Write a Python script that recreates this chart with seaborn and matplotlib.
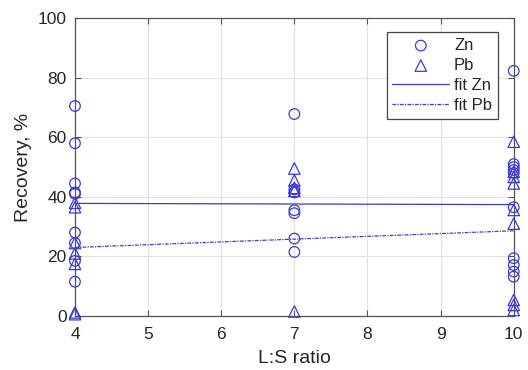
import numpy as np
import pandas as pd
import matplotlib
matplotlib.use("Agg")
import matplotlib.pyplot as plt
import seaborn as sns

# Liquid-to-solid ratio and metal recovery (%)
zn_ratio = [4, 4, 4, 4, 4, 4, 4, 4, 4,
            7, 7, 7, 7, 7, 7, 7,
            10, 10, 10, 10, 10, 10, 10, 10, 10, 10]
zn_recovery = [70.5, 58.0, 44.5, 41.5, 41.0, 28.0, 24.5, 18.5, 11.5,
               67.8, 42.5, 41.5, 35.5, 34.5, 26.0, 21.5,
               82.3, 51.0, 50.0, 49.0, 48.0, 36.5, 19.4, 17.1, 14.9, 13.2]

pb_ratio = [4, 4, 4, 4, 4, 4, 4,
            7, 7, 7, 7, 7,
            10, 10, 10, 10, 10, 10, 10, 10, 10]
pb_recovery = [38.0, 36.5, 24.5, 21.0, 17.5, 1.2, 0.6,
               49.5, 45.5, 43.0, 42.0, 1.5,
               58.5, 48.4, 46.7, 44.5, 35.6, 31.0, 5.4, 3.7, 2.0]

# Linear fit end points
fit_x = [4, 10]
fit_zn = [37.8, 37.4]
fit_pb = [23.0, 28.6]

blue = "#3a3ad6"

sns.set_theme(style="whitegrid")
plt.rcParams["font.family"] = ["Liberation Sans", "DejaVu Sans"]

fig = plt.figure(figsize=(5.28, 3.70), dpi=100)
ax = fig.add_axes([0.142, 0.146, 0.831, 0.805])

zn_df = pd.DataFrame({"ratio": zn_ratio, "recovery": zn_recovery})
pb_df = pd.DataFrame({"ratio": pb_ratio, "recovery": pb_recovery})
fit_df = pd.DataFrame({"ratio": fit_x, "zn": fit_zn, "pb": fit_pb})

sns.scatterplot(data=zn_df, x="ratio", y="recovery", ax=ax, marker="o", s=58,
                facecolor="none", edgecolor=blue, linewidth=0.9, label="Zn",
                zorder=3, clip_on=False)
sns.scatterplot(data=pb_df, x="ratio", y="recovery", ax=ax, marker="^", s=68,
                facecolor="none", edgecolor=blue, linewidth=0.9, label="Pb",
                zorder=3, clip_on=False)
sns.lineplot(data=fit_df, x="ratio", y="zn", ax=ax, color=blue, linewidth=0.9,
             label="fit Zn", zorder=2)
sns.lineplot(data=fit_df, x="ratio", y="pb", ax=ax, color=blue, linewidth=0.9,
             linestyle=(0, (3, 1, 1, 1)), label="fit Pb", zorder=2)

ax.set_xlim(4, 10)
ax.set_ylim(0, 100)
ax.set_xticks(range(4, 11))
ax.set_yticks(range(0, 101, 20))
ax.set_xlabel("L:S ratio", fontsize=14, color="#262626", labelpad=6)
ax.set_ylabel("Recovery, %", fontsize=14, color="#262626", labelpad=4)

ax.set_facecolor("white")
ax.grid(True, color="#e2e2e2", linewidth=0.8)
for side in ["left", "right", "top", "bottom"]:
    ax.spines[side].set_visible(True)
    ax.spines[side].set_color("#555555")
    ax.spines[side].set_linewidth(0.9)
ax.tick_params(axis="both", which="both", direction="in", length=4,
               width=0.8, color="#555555", labelsize=12.5, labelcolor="#262626",
               top=True, right=True, bottom=True, left=True)
ax.tick_params(axis="x", pad=8)
ax.tick_params(axis="y", pad=6)

leg = ax.legend(loc="upper right", bbox_to_anchor=(0.964, 0.953),
                fontsize=12, frameon=True, fancybox=False, framealpha=1,
                edgecolor="#444444", handlelength=3.4, borderpad=0.35,
                labelspacing=0.3, handletextpad=0.3, borderaxespad=0)
leg.get_frame().set_linewidth(0.9)
leg.set_zorder(5)

fig.savefig("out.png", dpi=100)
